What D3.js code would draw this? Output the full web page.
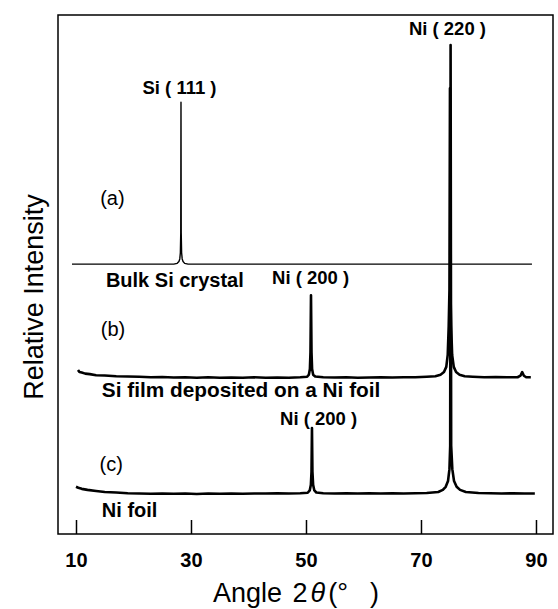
<!DOCTYPE html>
<html lang="en">
<head>
    <meta charset="UTF-8">
    <title>XRD patterns</title>
    <script src="https://d3js.org/d3.v7.min.js"></script>
    <style>
        body {
            margin: 0;
            background: #fff;
            font-family: "Liberation Sans", Arial, sans-serif;
        }
        .trace {
            fill: none;
            stroke: #000;
            stroke-linejoin: round;
        }
        .lbl-bold {
            font-weight: bold;
        }
    </style>
</head>
<body>
<svg id="chart"></svg>

<script>
    // [2theta (deg), relative intensity]
    const bulkSi = [
        [9.3, 52.0], [15, 52.0], [20, 52.0], [27.0, 52.0], [27.6, 52.15], [27.9, 52.5],
        [28.05, 53.0], [28.15, 54.2], [28.22, 58], [28.26, 83.2], [28.3, 58], [28.37, 54.2],
        [28.47, 53.0], [28.62, 52.5], [28.9, 52.15], [29.5, 52.0], [89.3, 52.0]
    ];

    const siOnNi = [
        [10.35, 31.6], [10.6, 31.2], [11.0, 31.1], [11.6, 30.9], [12.4, 30.8], [13.5, 30.6],
        [15, 30.55], [17, 30.4], [19, 30.35], [21, 30.3], [23, 30.2], [25, 30.25], [27, 30.15],
        [29, 30.2], [31, 30.1], [33, 30.2], [35, 30.1], [37, 30.15], [39, 30.1], [41, 30.2],
        [43, 30.1], [45, 30.15], [47, 30.1], [49, 30.2], [50.2, 30.3], [50.5, 30.7],
        [50.68, 31.8], [50.78, 35], [50.87, 46.0], [50.96, 35], [51.06, 31.8], [51.25, 30.7],
        [51.6, 30.35], [53, 30.2], [55, 30.15], [57, 30.2], [59, 30.1], [61, 30.15], [63, 30.2],
        [65, 30.15], [67, 30.2], [69, 30.2], [71, 30.3], [72.5, 30.4], [73.4, 30.7], [74.0, 31.2],
        [74.4, 32.2], [74.65, 34.5], [74.82, 40], [74.95, 47], [75.04, 85.9], [75.12, 47],
        [75.25, 40], [75.42, 34.5], [75.7, 32.2], [76.1, 31.2], [76.7, 30.7], [77.6, 30.4],
        [79, 30.3], [81, 30.2], [83, 30.25], [85, 30.2], [86.8, 30.2], [87.3, 30.5], [87.6, 31.2],
        [87.9, 30.5], [88.3, 30.2], [89.1, 30.2]
    ];

    const niFoil = [
        [10.0, 9.1], [10.4, 8.9], [11.0, 8.7], [12, 8.5], [13.5, 8.3], [15, 8.1], [17, 8.0],
        [19, 7.85], [21, 7.8], [23, 7.75], [25, 7.8], [27, 7.75], [29, 7.8], [31, 7.7], [33, 7.8],
        [35, 7.75], [37, 7.8], [39, 7.75], [41, 7.8], [43, 7.8], [45, 7.85], [47, 7.8], [49, 7.85],
        [50.3, 7.95], [50.65, 8.4], [50.85, 9.5], [50.96, 12], [51.04, 20.4], [51.12, 12],
        [51.24, 9.5], [51.45, 8.4], [51.8, 8.0], [53, 7.85], [55, 7.8], [57, 7.85], [59, 7.8],
        [61, 7.85], [63, 7.8], [65, 7.85], [67, 7.8], [69, 7.85], [71, 7.9], [73.0, 8.1],
        [73.8, 8.5], [74.3, 9.1], [74.7, 10.2], [74.95, 12.5], [75.08, 17], [75.15, 94.2],
        [75.25, 17], [75.45, 12.5], [75.75, 10.2], [76.2, 9.1], [76.8, 8.5], [77.8, 8.1],
        [80, 7.9], [82, 7.85], [84, 7.8], [86, 7.85], [88, 7.8], [89.8, 7.8]
    ];

    const xTicks = [10, 30, 50, 70, 90];

    // annotation text at [2theta, intensity]
    const peakLabels = [
        {text: "Si ( 111 )", at: [28.0, 84.8]},
        {text: "Ni ( 220 )", at: [74.6, 96.2]},
        {text: "Ni ( 200 )", at: [50.8, 48.1]},
        {text: "Ni ( 200 )", at: [52.2, 21.0]}
    ];
    const sampleLabels = [
        {text: "Bulk Si crystal", at: [15.2, 47.6], bold: true, size: 20},
        {text: "Si film deposited on a Ni foil", at: [14.5, 26.4], bold: true, size: 20.8},
        {text: "Ni foil", at: [14.5, 3.3], bold: true, size: 20},
        {text: "(a)", at: [14.2, 63.3], bold: false, size: 20},
        {text: "(b)", at: [14.3, 38.1], bold: false, size: 20},
        {text: "(c)", at: [14.1, 12.1], bold: false, size: 20}
    ];

    const W = 558, H = 609;
    const margin = {top: 15, right: 5, bottom: 75, left: 58};
    const width = W - margin.left - margin.right;
    const height = H - margin.top - margin.bottom;

    const svg = d3.select("#chart")
        .attr("width", W)
        .attr("height", H);

    const g = svg.append("g")
        .attr("transform", `translate(${margin.left},${margin.top})`);

    const x = d3.scaleLinear().domain([6.87, 92.96]).range([0, width]);
    const y = d3.scaleLinear().domain([0, 100]).range([height, 0]);

    const line = d3.line()
        .x(d => x(d[0]))
        .y(d => y(d[1]));

    g.append("path").datum(bulkSi).attr("class", "trace")
        .attr("stroke-width", 1.4).attr("d", line);
    g.append("path").datum(siOnNi).attr("class", "trace")
        .attr("stroke-width", 2.6).attr("d", line);
    g.append("path").datum(niFoil).attr("class", "trace")
        .attr("stroke-width", 2.6).attr("d", line);

    // frame
    g.append("rect")
        .attr("width", width)
        .attr("height", height)
        .attr("fill", "none")
        .attr("stroke", "#000")
        .attr("stroke-width", 1.5);

    const xAxis = g.append("g")
        .attr("transform", `translate(0,${height})`)
        .call(d3.axisBottom(x).tickValues(xTicks).tickSize(-14).tickPadding(19));
    xAxis.select(".domain").remove();
    xAxis.selectAll(".tick line").attr("stroke", "#000").attr("stroke-width", 1.5);
    xAxis.selectAll(".tick text")
        .attr("fill", "#000")
        .style("font-family", "'Liberation Sans', Arial, sans-serif")
        .style("font-size", "20px")
        .style("font-weight", "bold");

    g.selectAll(".peak-label")
        .data(peakLabels)
        .enter().append("text")
        .attr("class", "peak-label lbl-bold")
        .attr("x", d => x(d.at[0]))
        .attr("y", d => y(d.at[1]))
        .attr("text-anchor", "middle")
        .style("font-size", "18.5px")
        .text(d => d.text);

    g.selectAll(".sample-label")
        .data(sampleLabels)
        .enter().append("text")
        .attr("class", d => d.bold ? "sample-label lbl-bold" : "sample-label")
        .attr("x", d => x(d.at[0]))
        .attr("y", d => y(d.at[1]))
        .style("font-size", d => d.size + "px")
        .text(d => d.text);

    // axis titles
    svg.append("text")
        .attr("transform", "translate(43,297) rotate(-90)")
        .attr("text-anchor", "middle")
        .style("font-size", "27px")
        .text("Relative Intensity");

    const xt = svg.append("text")
        .attr("x", 213)
        .attr("y", 602)
        .style("font-size", "27px");
    xt.append("tspan").text("Angle ");
    xt.append("tspan").attr("dx", 3).text("2");
    xt.append("tspan").attr("dx", 3).style("font-style", "italic").text("θ");
    xt.append("tspan").attr("dx", 3).text("(°");
    xt.append("tspan").attr("dx", 22).text(")");
</script>
</body>
</html>
